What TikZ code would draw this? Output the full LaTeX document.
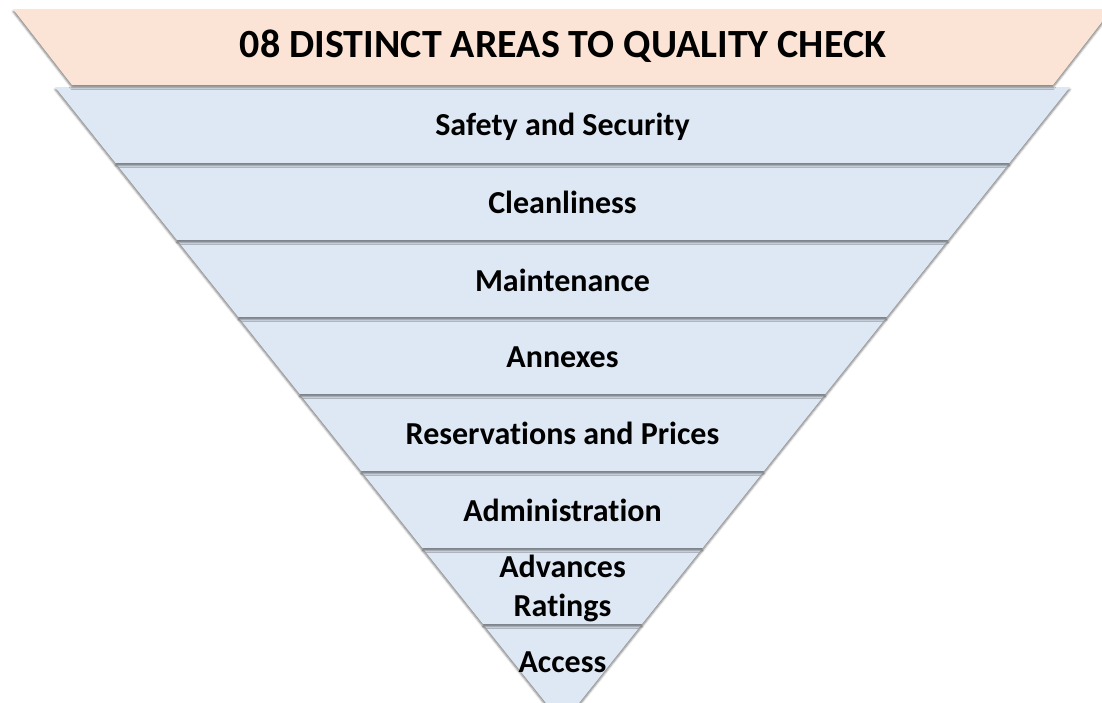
\documentclass[tikz,border=0pt]{standalone}
\usepackage{fontspec}
\setmainfont{Carlito}[Ligatures=NoCommon]
\usetikzlibrary{shadows.blur}
\definecolor{peach}{HTML}{FBE4D5}
\definecolor{paleblue}{HTML}{DEE8F4}
\tikzset{
  slice/.style={fill=paleblue, blur shadow={shadow xshift=0pt, shadow yshift=-2.5pt,
      shadow blur radius=2pt, shadow opacity=50}},
  headband/.style={fill=peach, blur shadow={shadow xshift=0pt, shadow yshift=-2.5pt,
      shadow blur radius=2pt, shadow opacity=50}},
  area/.style={font=\fontsize{32}{39}\selectfont\bfseries, align=center, inner sep=0pt},
}
\begin{document}
\begin{tikzpicture}[x=1pt,y=-1pt]
        \path[use as bounding box, clip] (0,0) rectangle (1102,702);

        % slices of the funnel, bottom first so each shadow falls on the one below
        \foreach \top/\bot in {624/724, 548/624, 471/548, 394/471, 317/394, 240/317, 163/240, 87/163} {
            \pgfmathsetmacro\lt{55+(\top-87)*0.797}
            \pgfmathsetmacro\rt{1070-(\top-87)*0.797}
            \pgfmathsetmacro\lb{55+(\bot-87)*0.797}
            \pgfmathsetmacro\rb{1070-(\bot-87)*0.797}
            \path[slice] (\lt,\top) -- (\rt,\top) -- (\rb,\bot) -- (\lb,\bot) -- cycle;
        }

        % header band
        \path[headband] (13,9) -- (1112,9) -- (1053,85) -- (72,85) -- cycle;
        \node[font=\fontsize{40}{48}\selectfont\bfseries] (title) at (563,46) {08 DISTINCT AREAS TO QUALITY CHECK};

        % labels
        \foreach \name/\y/\txt in {safety/127/Safety and Security, clean/202/Cleanliness,
                maint/280/Maintenance, annex/357/Annexes, resv/433/Reservations and Prices,
                admin/510/Administration, adv/588/{Advances\\Ratings}, access/662/Access} {
            \node[area] (\name) at (562.5,\y) {\txt};
        }
    \end{tikzpicture}
\end{document}
